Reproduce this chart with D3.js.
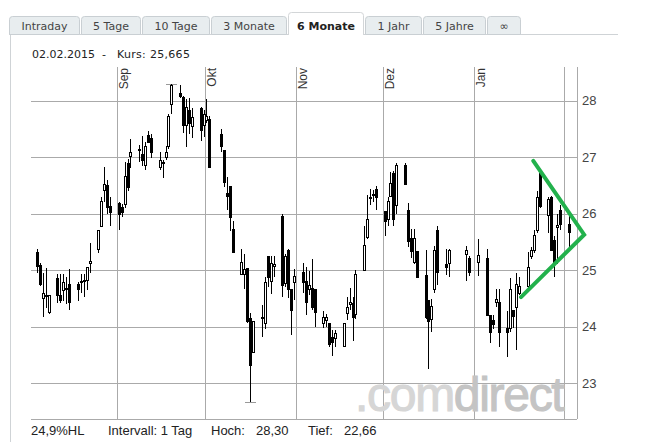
<!DOCTYPE html>
<html><head><meta charset="utf-8">
<script src="https://cdn.jsdelivr.net/npm/d3@7"></script>
<style>html,body{margin:0;padding:0;background:#fff;}svg{display:block;}</style>
</head><body>
<svg id="chart" width="648" height="442"></svg>
<script>
// ---------------- data ----------------
const tabLabels = ["Intraday","5 Tage","10 Tage","3 Monate","6 Monate","1 Jahr","5 Jahre","\u221E"];
const activeTab = "6 Monate";
const monthLabels = ["Sep","Okt","Nov","Dez","Jan",""];
const yTicks = [23,24,25,26,27,28];
const intervalText = "Intervall: 1 Tag";

const dates = [
"2014-08-04","2014-08-05","2014-08-06","2014-08-07","2014-08-08",
"2014-08-11","2014-08-12","2014-08-13","2014-08-14","2014-08-15",
"2014-08-18","2014-08-19","2014-08-20","2014-08-21","2014-08-22",
"2014-08-25","2014-08-26","2014-08-27","2014-08-28","2014-08-29",
"2014-09-01","2014-09-02","2014-09-03","2014-09-04","2014-09-05",
"2014-09-08","2014-09-09","2014-09-10","2014-09-11","2014-09-12",
"2014-09-15","2014-09-16","2014-09-17","2014-09-18","2014-09-19",
"2014-09-22","2014-09-23","2014-09-24","2014-09-25","2014-09-26",
"2014-09-29","2014-09-30","2014-10-01","2014-10-02",
"2014-10-06","2014-10-07","2014-10-08","2014-10-09","2014-10-10",
"2014-10-13","2014-10-14","2014-10-15","2014-10-16","2014-10-17",
"2014-10-20","2014-10-21","2014-10-22","2014-10-23","2014-10-24",
"2014-10-27","2014-10-28","2014-10-29","2014-10-30","2014-10-31",
"2014-11-03","2014-11-04","2014-11-05","2014-11-06","2014-11-07",
"2014-11-10","2014-11-11","2014-11-12","2014-11-13","2014-11-14",
"2014-11-17","2014-11-18","2014-11-19","2014-11-20","2014-11-21",
"2014-11-24","2014-11-25","2014-11-26","2014-11-27","2014-11-28",
"2014-12-01","2014-12-02","2014-12-03","2014-12-04","2014-12-05",
"2014-12-08","2014-12-09","2014-12-10","2014-12-11","2014-12-12",
"2014-12-15","2014-12-16","2014-12-17","2014-12-18","2014-12-19",
"2014-12-22","2014-12-23","2014-12-29","2014-12-30",
"2015-01-02",
"2015-01-05","2015-01-06","2015-01-07","2015-01-08","2015-01-09",
"2015-01-12","2015-01-13","2015-01-14","2015-01-15","2015-01-16",
"2015-01-19","2015-01-20","2015-01-21","2015-01-22","2015-01-23",
"2015-01-26","2015-01-27","2015-01-28","2015-01-29","2015-01-30",
"2015-02-02"];

const openV = [
25.32,25.09,24.50,24.54,24.26,
24.85,24.56,24.65,24.68,24.75,
24.76,24.79,24.81,24.82,25.12,
25.38,25.78,26.42,26.50,26.13,
26.19,26.11,26.17,26.90,27.02,
27.13,27.05,26.86,27.39,27.33,
26.83,26.89,27.00,27.19,27.93,
28.13,28.07,27.57,27.83,27.54,
27.86,27.57,27.66,27.67,
27.40,27.12,26.36,26.49,25.72,
24.93,24.93,25.03,24.15,23.55,
24.15,24.06,25.25,24.81,25.07,
25.96,24.77,25.35,24.67,24.79,
24.97,24.81,24.66,24.69,24.66,
24.06,24.12,24.07,23.82,23.79,
23.65,24.24,24.40,24.41,24.23,
25.00,25.58,26.27,26.33,26.44,
26.05,25.90,26.31,26.71,26.15,
26.86,26.06,25.56,25.15,25.34,
24.91,24.47,24.14,24.67,25.71,
25.11,25.13,25.29,25.22,
25.15,
25.21,24.20,24.12,24.44,24.44,
23.98,23.97,24.30,24.34,24.60,
24.72,25.25,25.35,25.70,26.71,
25.97,26.30,25.53,25.76,26.07,
25.81];

const highV = [
25.38,25.12,24.94,25.03,24.56,
24.93,24.93,24.93,24.88,25.01,
24.78,24.93,24.93,24.95,25.48,
25.70,26.29,26.83,26.60,26.29,
26.21,26.17,26.92,26.97,27.31,
27.21,27.37,27.27,27.46,27.40,
27.08,26.95,27.19,27.76,28.30,
28.27,28.08,28.03,28.04,27.86,
27.89,27.83,28.02,27.72,
27.50,27.12,26.64,26.49,25.86,
25.38,25.28,25.03,24.24,24.09,
24.38,24.88,25.25,25.25,25.25,
26.00,25.28,25.38,24.67,25.01,
25.13,25.06,24.99,25.19,24.66,
24.28,24.22,24.07,23.93,23.94,
24.07,24.52,24.68,24.53,25.00,
25.78,26.33,26.43,26.42,26.49,
26.05,26.30,26.74,26.76,26.90,
26.89,26.18,25.72,25.72,25.34,
25.35,24.47,24.48,25.42,25.78,
25.38,25.38,25.42,25.25,
25.54,
25.38,24.20,24.20,24.67,24.67,
24.27,24.86,24.30,24.94,24.88,
25.32,25.40,25.71,26.39,26.78,
26.30,26.31,25.60,26.00,26.15,
25.95];

const lowV = [
24.94,24.72,24.16,24.32,24.23,
24.41,24.41,24.45,24.40,24.30,
24.46,24.60,24.53,24.65,24.95,
25.30,25.77,26.21,25.99,25.78,
25.71,25.93,26.10,26.40,26.80,
26.92,26.84,26.77,27.25,26.99,
26.77,26.62,26.95,27.14,27.76,
28.04,27.43,27.18,27.41,27.34,
27.28,27.35,27.60,26.83,
27.09,26.47,26.07,25.69,25.31,
24.91,24.66,24.06,22.66,23.55,
23.81,23.95,24.70,24.58,24.88,
24.52,24.70,24.50,23.85,24.47,
24.59,24.20,24.55,24.30,24.00,
23.97,24.00,23.64,23.48,23.64,
23.65,24.11,24.30,23.75,24.13,
25.00,25.55,26.15,26.21,26.07,
25.60,25.78,26.30,25.78,26.00,
26.52,25.40,25.21,25.10,24.87,
24.14,23.24,23.91,24.60,24.73,
24.91,24.88,24.81,24.90,
24.89,
24.20,23.70,23.95,24.35,23.64,
23.46,23.90,23.97,23.58,24.55,
24.65,25.20,25.30,25.65,26.10,
25.65,25.35,24.87,25.10,25.70,
25.41];

const closeV = [
25.07,24.76,24.59,24.55,24.55,
24.56,24.47,24.79,24.66,24.43,
24.67,24.81,24.83,25.05,25.16,
25.70,26.23,26.53,26.11,26.03,
25.99,26.03,26.66,26.47,27.08,
27.15,26.95,27.19,27.27,27.08,
26.95,26.91,27.08,27.73,28.28,
28.08,27.57,27.89,27.60,27.70,
27.48,27.77,27.72,26.83,
27.19,26.56,26.31,25.93,25.31,
25.15,25.01,24.09,23.32,24.09,
24.17,24.79,24.87,25.13,25.11,
24.74,25.25,24.66,24.30,24.89,
24.79,24.44,24.74,24.35,24.26,
24.16,24.16,23.69,23.73,23.88,
24.07,24.35,24.44,24.16,24.93,
25.44,25.90,26.29,26.35,26.29,
25.87,26.23,26.54,25.91,26.86,
26.52,25.52,25.34,25.56,24.87,
24.17,24.10,24.36,25.36,24.97,
25.06,25.35,25.35,24.97,
25.27,
24.20,23.91,24.04,24.48,23.91,
23.91,24.67,24.19,24.75,24.72,
25.06,25.35,25.62,26.29,26.13,
26.25,25.35,25.15,25.80,25.81,
25.665];

// hand-drawn green annotation (date, price)
const markDates = ["2015-01-21T09:00","2015-02-07T19:00","2015-01-17T04:00"];
const markValues = [26.93, 25.625, 24.52];

// ---------------- drawing ----------------
const svg = d3.select("#chart");
const parse = d3.timeParse("%Y-%m-%d");
const parseT = d3.timeParse("%Y-%m-%dT%H:%M");
const data = dates.map((d,i)=>({date:d3.timeHour.offset(parse(d),12),o:openV[i],h:highV[i],l:lowV[i],c:closeV[i]}));

const L=31, R=577, T=67, B=419;
const x = d3.scaleTime().domain([new Date(2014,7,2,11), new Date(2015,1,5,8)]).range([L,R]);
const y = d3.scaleLinear().domain([22.363, 28.593]).range([B,T]);

const fmt = d3.formatLocale({decimal:",",thousands:".",grouping:[3],currency:["","€"]});
const f2 = fmt.format(".2f"), f3 = fmt.format(".3f"), f1 = fmt.format(".1f");

// panel frame
svg.append("line").attr("x1",9).attr("x2",618).attr("y1",34.5).attr("y2",34.5).attr("stroke","#cfd3d6");
svg.append("line").attr("x1",10.5).attr("x2",10.5).attr("y1",34.5).attr("y2",442).attr("stroke","#cfd3d6");

// tabs
const tabG = svg.append("g");
let txf = 9;
const tmp = svg.append("text").style("font","11px 'DejaVu Sans'");
tabLabels.forEach(lbl=>{
  tmp.text(lbl);
  const wf = tmp.node().getComputedTextLength()+24.7;
  const tx = Math.round(txf), w = Math.round(txf+wf)-tx;
  const act = lbl===activeTab;
  const top = act?12.5:16.5, bot = act?35:34.5, r=3;
  const x0=tx+0.5, x1=tx+w-0.5;
  tabG.append("path")
    .attr("d",`M${x0},${bot}V${top+r}Q${x0},${top} ${x0+r},${top}H${x1-r}Q${x1},${top} ${x1},${top+r}V${bot}`+(act?"":"Z"))
    .attr("fill",act?"#fff":"#e8edef").attr("stroke",act?"#d3d6d8":"#c9cfd3").attr("stroke-width",1);
  tabG.append("text").attr("x",tx+w/2).attr("y",act?29.5:30).attr("text-anchor","middle")
    .style("font",(act?"bold ":"")+"11px 'DejaVu Sans'").attr("fill",act?"#222":"#444").text(lbl);
  txf += wf+1;
});
tmp.remove();

// header
const last = data[data.length-1];
const hdr = svg.append("g").style("font","11px 'DejaVu Sans'").attr("fill","#222");
hdr.append("text").attr("x",32).attr("y",58).text(d3.timeFormat("%d.%m.%Y")(parse(dates[dates.length-1])));
hdr.append("text").attr("x",102).attr("y",58).text("-");
hdr.append("text").attr("x",117).attr("y",58).style("letter-spacing","0.3px").text(`Kurs: ${f3(last.c)}`);

// grid
const grid = svg.append("g").attr("stroke","#aaaaaa").attr("stroke-width",1).attr("shape-rendering","crispEdges");
grid.selectAll(".h").data(yTicks).join("line").attr("x1",L).attr("x2",R)
  .attr("y1",d=>Math.round(y(d))+0.5).attr("y2",d=>Math.round(y(d))+0.5);
const months = d3.timeMonth.range(new Date(2014,8,1), new Date(2015,1,2));
grid.selectAll(".v").data(months).join("line").attr("y1",T).attr("y2",B)
  .attr("x1",d=>Math.round(x(d))+0.5).attr("x2",d=>Math.round(x(d))+0.5);
grid.append("line").attr("x1",R+0.5).attr("x2",R+0.5).attr("y1",T).attr("y2",B);
grid.append("line").attr("x1",L).attr("x2",R).attr("y1",B+0.5).attr("y2",B+0.5);

// month labels
svg.selectAll(".ml").data(months).join("text")
  .attr("transform",(d,i)=>`translate(${Math.round(x(d))+11},${T+1}) rotate(-90)`)
  .attr("text-anchor","end").style("font","12px 'Liberation Sans', Arial").attr("fill","#333")
  .text((d,i)=>monthLabels[i]);

// y tick labels
svg.selectAll(".yl").data(yTicks).join("text").attr("x",582).attr("y",d=>y(d)+4.5)
  .style("font","13px 'Liberation Sans', Arial").attr("fill","#444").text(d=>d);

// watermark
const wm = svg.append("text").attr("x",355).attr("y",411)
  .style("font","48px 'Liberation Sans', Arial").style("letter-spacing","-1.3px");
wm.append("tspan").attr("fill","#d6d6d6").attr("stroke","#d6d6d6").attr("stroke-width",1.1).text(".com");
wm.append("tspan").attr("fill","#c4c4c4").attr("stroke","#c4c4c4").attr("stroke-width",1.1).text("direct");

// hoch / tief markers
const hiD = data.reduce((a,b)=>b.h>a.h?b:a), loD = data.reduce((a,b)=>b.l<a.l?b:a);
[[hiD,hiD.h],[loD,loD.l]].forEach(([d,v])=>{
  const cx=Math.round(x(d.date));
  svg.append("line").attr("x1",cx-5).attr("x2",cx+6).attr("y1",Math.round(y(v))+0.5).attr("y2",Math.round(y(v))+0.5)
    .attr("stroke","#999").attr("shape-rendering","crispEdges");
});

// candles
const cg = svg.append("g").attr("shape-rendering","crispEdges");
const candle = cg.selectAll("g").data(data).join("g");
candle.append("line")
  .attr("x1",d=>Math.round(x(d.date))+0.5).attr("x2",d=>Math.round(x(d.date))+0.5)
  .attr("y1",d=>y(d.h)).attr("y2",d=>y(d.l)).attr("stroke","#000");
candle.append("rect")
  .attr("x",d=>Math.round(x(d.date))-0.5).attr("width",2)
  .attr("y",d=>Math.round(y(Math.max(d.o,d.c)))+0.5)
  .attr("height",d=>Math.max(1,Math.round(y(Math.min(d.o,d.c)))-Math.round(y(Math.max(d.o,d.c)))))
  .attr("fill",d=>d.c<d.o?"#000":"#fff").attr("stroke","#000");

// annotation
const mpts = markDates.map((d,i)=>[x(parseT(d)), y(markValues[i])]);
svg.append("path").attr("d",d3.line()(mpts)).attr("fill","none").attr("stroke","#22b14c")
  .attr("stroke-width",4).attr("stroke-linejoin","miter").attr("stroke-linecap","round");

// footer
const hl = (hiD.h-loD.l)/loD.l*100;
const foot = svg.append("g").style("font","13px 'Liberation Sans', Arial").attr("fill","#222");
foot.append("text").attr("x",31).attr("y",435).text(`${f1(hl)}%HL`);
foot.append("text").attr("x",108).attr("y",435).text(intervalText);
foot.append("text").attr("x",211).attr("y",435).text("Hoch:");
foot.append("text").attr("x",256).attr("y",435).text(f2(hiD.h));
foot.append("text").attr("x",308).attr("y",435).text("Tief:");
foot.append("text").attr("x",344).attr("y",435).text(f2(loD.l));
</script>
</body></html>
